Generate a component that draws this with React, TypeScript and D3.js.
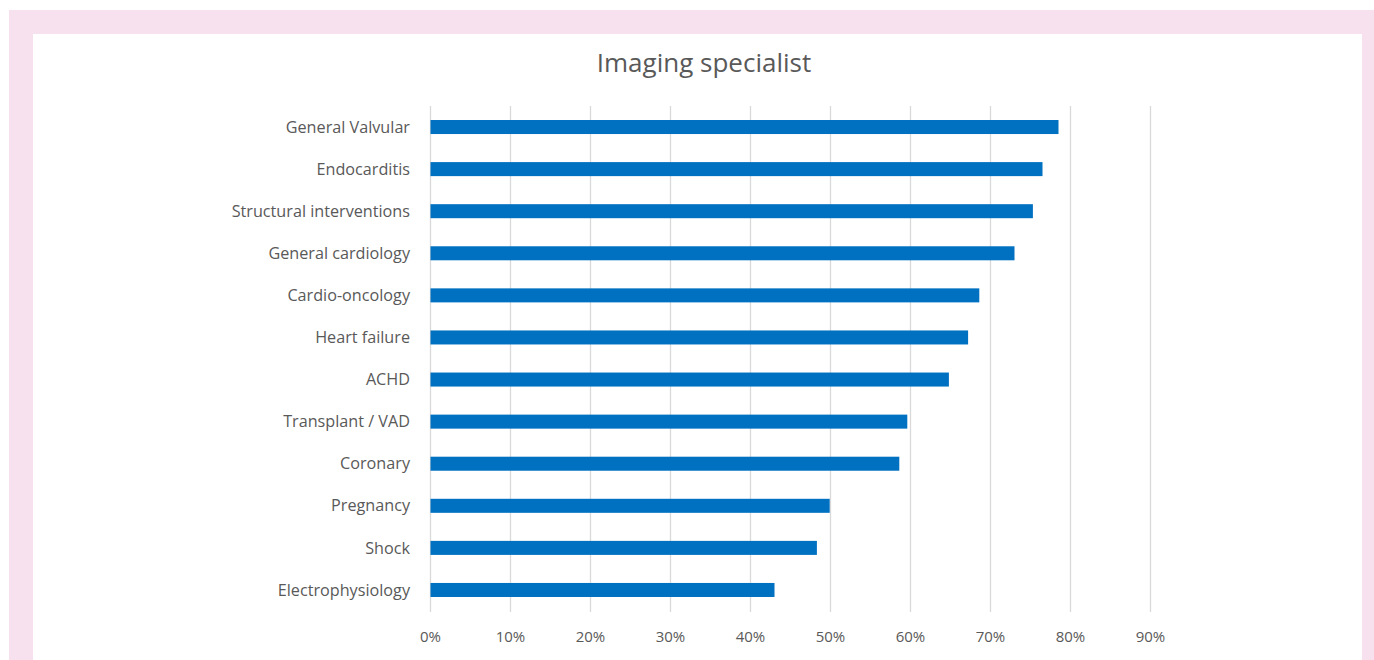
import React from "react";
import * as d3 from "d3";

const categories = [
  "General Valvular",
  "Endocarditis",
  "Structural interventions",
  "General cardiology",
  "Cardio-oncology",
  "Heart failure",
  "ACHD",
  "Transplant / VAD",
  "Coronary",
  "Pregnancy",
  "Shock",
  "Electrophysiology",
];
const values = [78.5, 76.5, 75.3, 73.0, 68.6, 67.2, 64.8, 59.6, 58.6, 49.9, 48.3, 43.0];
const ticks = [0, 10, 20, 30, 40, 50, 60, 70, 80, 90];
const title = "Imaging specialist";

const W = 1374;
const H = 660;
const FONT = "'Open Sans', Lato, sans-serif";

export default function App() {
  const x = d3.scaleLinear().domain([0, 90]).range([430.5, 1150.5]);
  const y = d3
    .scaleBand<string>()
    .domain(categories)
    .range([106, 611])
    .paddingInner(0.667)
    .paddingOuter(0.333);

  return (
    <svg
      width={W}
      height={H}
      style={{ position: "absolute", left: 0, top: 0, display: "block" }}
    >
      <rect x={0} y={0} width={W} height={H} fill="#ffffff" />
      <rect x={9} y={10} width={W - 9} height={H - 10} fill="#f8e1ef" />
      <rect x={33} y={34} width={1329} height={H - 34} fill="#ffffff" />
      <text
        x={704}
        y={72}
        textAnchor="middle"
        fontFamily={FONT}
        fontSize={26}
        fill="#595959"
      >
        {title}
      </text>
      {ticks.map((t) => (
        <line
          key={t}
          x1={x(t)}
          x2={x(t)}
          y1={106}
          y2={612}
          stroke="#d9d9d9"
          strokeWidth={1.3}
        />
      ))}
      {categories.map((c, i) => (
        <rect
          key={c}
          x={x(0)}
          y={y(c)}
          width={x(values[i]) - x(0)}
          height={y.bandwidth()}
          fill="#0070c0"
        />
      ))}
      {categories.map((c) => (
        <text
          key={c}
          x={410}
          y={(y(c) as number) + y.bandwidth() / 2}
          dy="0.35em"
          textAnchor="end"
          fontFamily={FONT}
          fontSize={16.2}
          fill="#595959"
        >
          {c}
        </text>
      ))}
      {ticks.map((t) => (
        <text
          key={t}
          x={x(t)}
          y={637}
          dy="0.35em"
          textAnchor="middle"
          fontFamily={FONT}
          fontSize={15}
          fill="#595959"
        >
          {d3.format(".0%")(t / 100)}
        </text>
      ))}
    </svg>
  );
}
